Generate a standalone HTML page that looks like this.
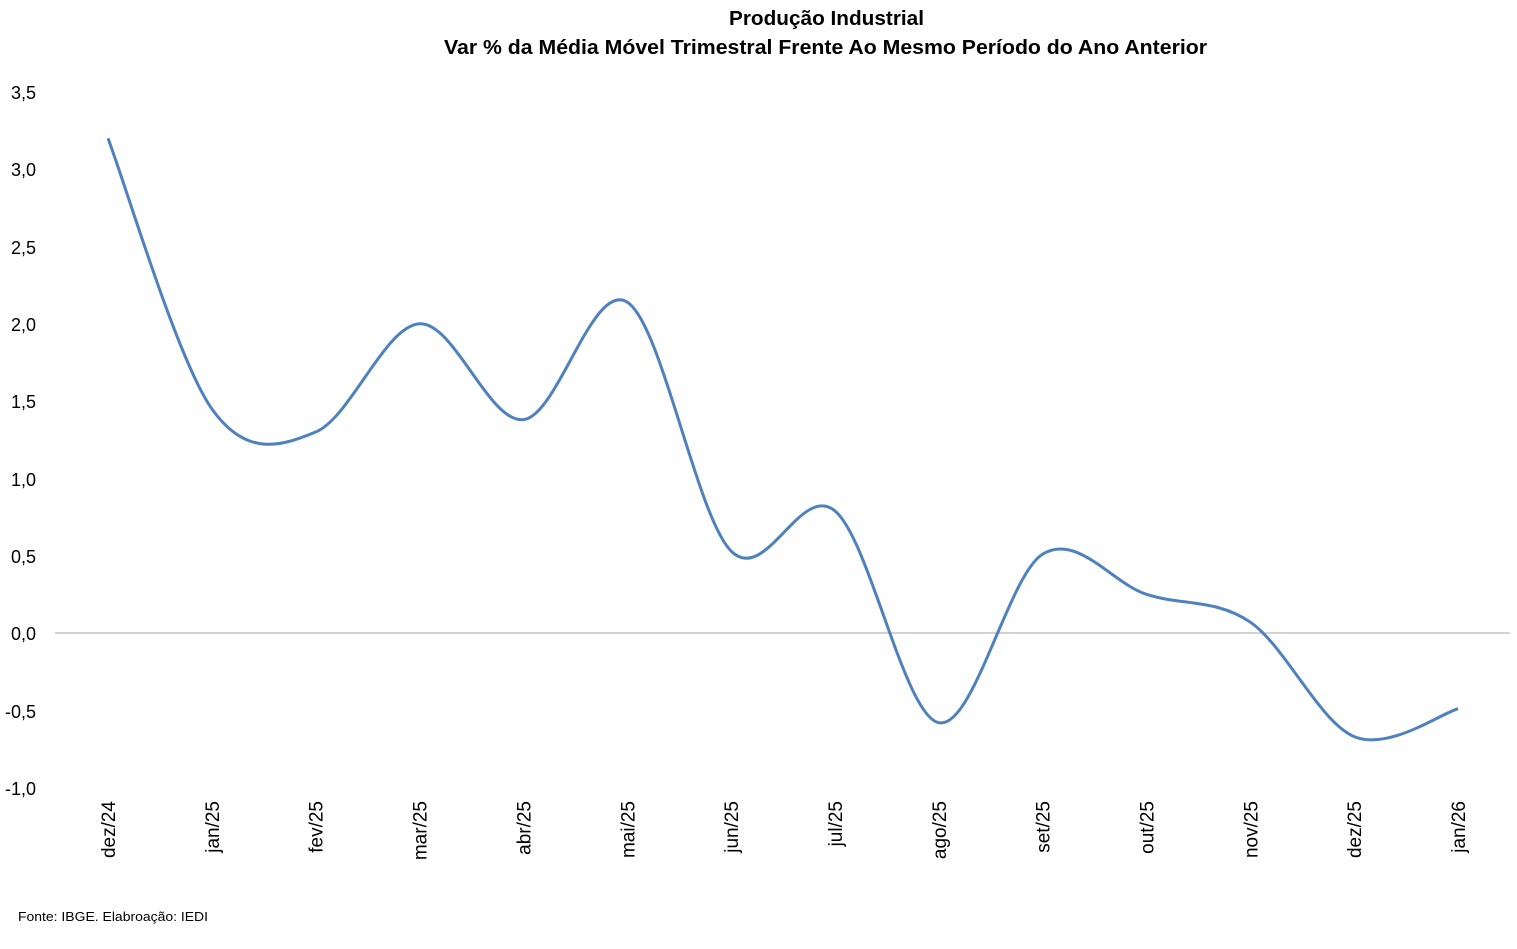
<!DOCTYPE html>
<html><head><meta charset="utf-8"><style>
body{margin:0;background:#fff;}
svg text{font-family:"Liberation Sans",sans-serif;fill:#000;}
</style></head><body>
<svg id="s" width="1517" height="944" xmlns="http://www.w3.org/2000/svg">
<rect width="1517" height="944" fill="#fff"/>
<text x="729" y="25" font-size="20" font-weight="bold" textLength="195" lengthAdjust="spacingAndGlyphs">Produção Industrial</text>
<text x="444" y="54" font-size="20" font-weight="bold" textLength="763" lengthAdjust="spacingAndGlyphs">Var % da Média Móvel Trimestral Frente Ao Mesmo Período do Ano Anterior</text>
<line x1="55" y1="633" x2="1510" y2="633" stroke="#a6a6a6" stroke-width="1"/>
<g font-size="18" text-anchor="end">
<text x="36" y="99">3,5</text><text x="36" y="176">3,0</text><text x="36" y="254">2,5</text>
<text x="36" y="331">2,0</text><text x="36" y="408">1,5</text><text x="36" y="486">1,0</text>
<text x="36" y="563">0,5</text><text x="36" y="640">0,0</text><text x="36" y="718">-0,5</text>
<text x="36" y="795">-1,0</text>
</g>
<g id="xl" font-size="19" text-anchor="end"></g>
<path id="p" fill="none" stroke="#4f81bd" stroke-width="3"/>
<text x="18" y="921" font-size="13" textLength="190" lengthAdjust="spacingAndGlyphs">Fonte: IBGE. Elabroação: IEDI</text>
</svg>
<script>
var labs=["dez/24","jan/25","fev/25","mar/25","abr/25","mai/25","jun/25","jul/25","ago/25","set/25","out/25","nov/25","dez/25","jan/26"];
var v=[3.2,1.45,1.3,2.0,1.38,2.14,0.53,0.79,-0.58,0.51,0.25,0.07,-0.67,-0.49];
var X=i=>108+i*103.85, Y=a=>633-a*154.6;
var g=document.getElementById("xl"),h="";
labs.forEach((l,i)=>{var x=X(i)+7;h+='<text transform="translate('+x+',801) rotate(-90)">'+l+'</text>';});
g.innerHTML=h;
var P=v.map((a,i)=>[X(i),Y(a)]);
var d="M"+P[0][0]+","+P[0][1];
for(var i=0;i<P.length-1;i++){
var p0=P[i>0?i-1:i],p1=P[i],p2=P[i+1],p3=P[i+2<P.length?i+2:i+1],t=6;
d+=" C"+(p1[0]+(p2[0]-p0[0])/t)+","+(p1[1]+(p2[1]-p0[1])/t)+" "+(p2[0]-(p3[0]-p1[0])/t)+","+(p2[1]-(p3[1]-p1[1])/t)+" "+p2[0]+","+p2[1];}
document.getElementById("p").setAttribute("d",d);
</script>
</body></html>
